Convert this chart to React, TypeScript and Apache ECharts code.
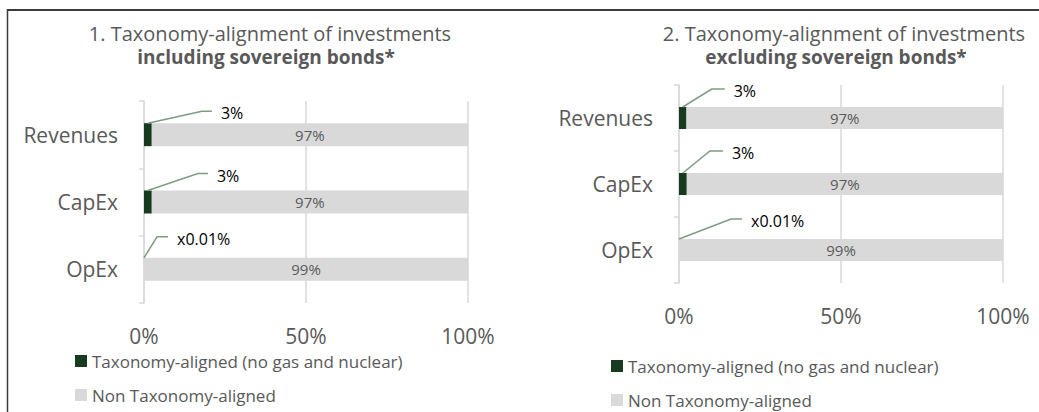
import React, { useEffect, useRef } from "react";
import * as echarts from "echarts";

const categories = ["Revenues", "CapEx", "OpEx"];

const leftAligned = [2.4, 2.4, 0.01];
const leftNonAligned = [97.6, 97.6, 99.99];
const leftAlignedLabels = ["3%", "3%", "x0.01%"];
const leftNonLabels = ["97%", "97%", "99%"];

const rightAligned = [2.3, 2.4, 0.01];
const rightNonAligned = [97.7, 97.6, 99.99];
const rightAlignedLabels = ["3%", "3%", "x0.01%"];
const rightNonLabels = ["97%", "97%", "99%"];

const xTicks = [0, 50, 100];

const seriesNames = ["Taxonomy-aligned (no gas and nuclear)", "Non Taxonomy-aligned"];

const FONT = "'Open Sans'";
const GREEN = "#183A1F";
const GRAY = "#D9D9D9";
const TEXT = "#595959";
const LEADER = "#7E9C80";

// leader line styling per item: [elbowDx, elbowDy, horizontalLength]
const leftLeaders = [[54, -12, 10], [50, -17, 10], [13, -21, 11]];
const rightLeaders = [[29, -18, 13], [27, -22, 13], [52, -20, 11]];

function leaderSeries(axisIdx: number, aligned: number[], labels: string[], leaders: number[][], barW: number) {
  return {
    type: "custom",
    xAxisIndex: axisIdx,
    yAxisIndex: axisIdx,
    silent: true,
    z: 10,
    data: aligned.map((v, i) => [v / 2, i, i]),
    renderItem: (params: any, api: any) => {
      const i = api.value(2);
      const p = api.coord([api.value(0), api.value(1)]);
      const sx = p[0];
      const sy = p[1] - barW / 2;
      const [dx, dy, h] = leaders[i];
      const ex = sx + dx;
      const ey = sy + dy;
      return {
        type: "group",
        children: [
          {
            type: "polyline",
            shape: { points: [[sx, sy], [ex, ey], [ex + h, ey]] },
            style: { stroke: LEADER, lineWidth: 1.5, fill: null },
          },
          {
            type: "text",
            x: ex + h + 9,
            y: ey + 2,
            style: {
              text: labels[i],
              fill: "#000",
              font: `16px ${FONT}`,
              verticalAlign: "middle",
            },
          },
        ],
      };
    },
  };
}

function barSeries(axisIdx: number, aligned: number[], non: number[], nonLabels: string[], barW: number) {
  return [
    {
      name: seriesNames[0],
      type: "bar",
      stack: "s" + axisIdx,
      xAxisIndex: axisIdx,
      yAxisIndex: axisIdx,
      barWidth: barW,
      itemStyle: { color: GREEN },
      data: aligned,
    },
    {
      name: seriesNames[1],
      type: "bar",
      stack: "s" + axisIdx,
      xAxisIndex: axisIdx,
      yAxisIndex: axisIdx,
      barWidth: barW,
      itemStyle: { color: GRAY },
      label: {
        show: true,
        position: "inside",
        color: TEXT,
        fontSize: 15,
        fontFamily: FONT,
        formatter: (p: any) => nonLabels[p.dataIndex],
      },
      data: non,
    },
  ];
}

function xAxisCfg(gridIndex: number) {
  return {
    type: "value",
    gridIndex,
    min: xTicks[0],
    max: xTicks[xTicks.length - 1],
    interval: xTicks[1] - xTicks[0],
    axisLine: { show: false },
    axisTick: { show: false },
    splitLine: { show: true, lineStyle: { color: GRAY, width: 1.5 } },
    axisLabel: { formatter: "{value}%", color: TEXT, fontSize: 21, fontFamily: FONT, margin: 22 },
  };
}

function yAxisCfg(gridIndex: number) {
  return {
    type: "category",
    gridIndex,
    inverse: true,
    data: categories,
    axisLine: { show: true, lineStyle: { color: GRAY, width: 1.5 } },
    axisTick: { show: true, length: 5, lineStyle: { color: GRAY, width: 1.5 } },
    axisLabel: { color: TEXT, fontSize: 21, fontFamily: FONT, margin: 26 },
  };
}

function legendItem(name: string, left: number, centerY: number) {
  return {
    orient: "vertical",
    left,
    top: centerY - 9,
    padding: 0,
    itemWidth: 12,
    itemHeight: 12,
    icon: "rect",
    selectedMode: false,
    data: [name],
    textStyle: { color: TEXT, fontSize: 17, lineHeight: 18, fontFamily: FONT },
  };
}

function titleLine(left: number, centerY: number, text: string, bold: boolean) {
  return {
    left,
    top: centerY - 11,
    padding: 0,
    textAlign: "center",
    text,
    textStyle: {
      fontSize: bold ? 19 : 20,
      lineHeight: 22,
      color: TEXT,
      fontFamily: FONT,
      fontWeight: bold ? "bold" : "normal",
    },
  };
}

export default function App() {
  const ref = useRef<HTMLDivElement>(null);
  useEffect(() => {
    const chart = echarts.init(ref.current!, undefined, { renderer: "svg" });
    chart.setOption({
      animation: false,
      backgroundColor: "#fff",
      title: [
        titleLine(270, 33, "1. Taxonomy-alignment of investments", false),
        titleLine(266, 57, "including sovereign bonds*", true),
        titleLine(844, 33, "2. Taxonomy-alignment of investments", false),
        titleLine(836, 57, "excluding sovereign bonds*", true),
      ],
      legend: [
        legendItem(seriesNames[0], 75, 361),
        legendItem(seriesNames[1], 75, 395),
        legendItem(seriesNames[0], 611, 366),
        legendItem(seriesNames[1], 611, 400),
      ],
      grid: [
        { left: 144, width: 324, top: 101, height: 202, containLabel: false },
        { left: 679, width: 324, top: 85, height: 198, containLabel: false },
      ],
      xAxis: [xAxisCfg(0), xAxisCfg(1)],
      yAxis: [yAxisCfg(0), yAxisCfg(1)],
      series: [
        ...barSeries(0, leftAligned, leftNonAligned, leftNonLabels, 23),
        ...barSeries(1, rightAligned, rightNonAligned, rightNonLabels, 22),
        leaderSeries(0, leftAligned, leftAlignedLabels, leftLeaders, 23),
        leaderSeries(1, rightAligned, rightAlignedLabels, rightLeaders, 22),
      ],
      graphic: [
        { type: "line", shape: { x1: 7, y1: 10, x2: 1039, y2: 10 }, style: { stroke: "#3a3a3a", lineWidth: 2 } },
        { type: "line", shape: { x1: 7.5, y1: 9, x2: 7.5, y2: 412 }, style: { stroke: "#3a3a3a", lineWidth: 1.5 } },
      ],
    });
    return () => chart.dispose();
  }, []);
  return (
    <div
      ref={ref}
      style={{ position: "fixed", left: 0, top: 0, width: 1039, height: 412, background: "#fff" }}
    />
  );
}
